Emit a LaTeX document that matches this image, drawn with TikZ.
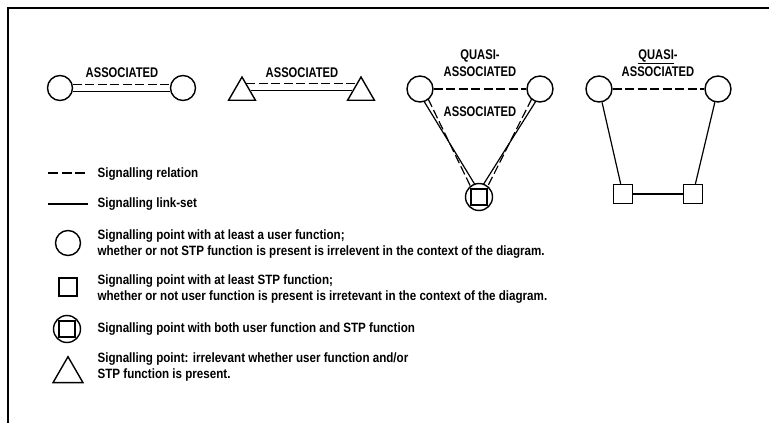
\documentclass[tikz,border=0pt]{standalone}
\usepackage{fontspec}
\setmainfont{Liberation Sans}[FakeStretch=0.8]
\newfontfamily\legendfont{Liberation Sans}[FakeStretch=0.86]
\usetikzlibrary{calc,shapes.geometric}

\begin{document}
\begin{tikzpicture}[x=1pt, y=-1pt, line width=1.2pt,
    userpt/.style={draw, circle, minimum size=25pt, inner sep=0pt, line width=1.4pt},
    stppt/.style={draw, rectangle, minimum size=19pt, inner sep=0pt, line width=1.4pt},
    anypt/.style={draw, regular polygon, regular polygon sides=3, minimum size=31pt, inner sep=0pt, line width=1.4pt},
    relation/.style={dash pattern=on 9pt off 3.5pt},
    lbl/.style={font=\fontsize{14}{17}\selectfont\bfseries, align=center},
    txt/.style={anchor=west, align=left, inner sep=0pt, font=\legendfont\fontsize{13.5}{16}\selectfont\bfseries}]
  \useasboundingbox (0,0) rectangle (769,423);
  % frame, top and left only
  \draw[line width=2pt] (8,423) -- (8,8) -- (769,8);

  % ASSOCIATED — two user points
  \node[userpt] (ua) at (60,88) {};
  \node[userpt] (ub) at (183,88) {};
  \draw[relation] (ua.15) -- (ub.165);
  \draw (ua.-15) -- (ub.-165);
  \node[lbl] (assoc1) at (122,73) {ASSOCIATED};

  % ASSOCIATED — two triangles
  \node[anypt] (ta) at (242,92.5) {};
  \node[anypt] (tb) at (361,92.5) {};
  \draw[relation] ($(ta.corner 1)!0.3!(ta.corner 3)$) -- ($(tb.corner 1)!0.3!(tb.corner 2)$);
  \draw ($(ta.corner 1)!0.6!(ta.corner 3)$) -- ($(tb.corner 1)!0.6!(tb.corner 2)$);
  \node[lbl] (assoc2) at (302,73) {ASSOCIATED};

  % QUASI-ASSOCIATED via combined point
  \node[userpt, minimum size=26pt] (qa) at (420,89) {};
  \node[userpt, minimum size=26pt] (qb) at (540,89) {};
  \node[userpt, minimum size=27pt] (qc) at (479,197) {};
  \node[stppt, minimum size=16pt] (qcs) at (qc) {};
  \draw[relation] (qa) -- (qb);
  \foreach \a/\s/\d in {qa/-90/90, qb/90/-90} {
    \draw[shorten <=12.5pt, shorten >=12.5pt] ($(\a)!3pt!\s:(qc)$) -- ($(qc)!3pt!\s:(\a)$);
    \draw[relation, shorten <=12.5pt, shorten >=12.5pt] ($(\a)!3pt!\d:(qc)$) -- ($(qc)!3pt!\d:(\a)$);
  }
  \node[lbl] (quasi3) at (480,63) {QUASI-\\ASSOCIATED};
  \node[lbl] (assoc3) at (480,112) {ASSOCIATED};

  % QUASI-ASSOCIATED via two STPs
  \node[userpt, minimum size=26pt] (pa) at (599,89) {};
  \node[userpt, minimum size=26pt] (pb) at (718,89) {};
  \node[stppt] (sa) at (623,194) {};
  \node[stppt] (sb) at (693,194) {};
  \draw[relation] (pa) -- (pb);
  \draw (pa) -- (sa);
  \draw (pb) -- (sb);
  \draw (sa) -- (sb);
  \node[lbl] (quasi4) at (658,63) {\underline{QUASI}-\\ASSOCIATED};

  % legend
  \draw[relation, dash pattern=on 10pt off 3.5pt] (48,173) -- (86,173);
  \node[txt] (lrel) at (97,174) {Signalling relation};
  \draw (48,204) -- (88,204);
  \node[txt] (llink) at (97,204) {Signalling link-set};
  \node[userpt] (luser) at (68,243) {};
  \node[txt] (tuser) at (97,244) {Signalling point with at least a user function;\\
    whether or not STP function is present is irrelevent in the context of the diagram.};
  \node[stppt, minimum size=18pt] (lstp) at (68,287) {};
  \node[txt] (tstp) at (97,289) {Signalling point with at least STP function;\\
    whether or not user function is present is irretevant in the context of the diagram.};
  \node[userpt, minimum size=27pt] (lboth) at (67,329) {};
  \node[stppt, minimum size=16pt] (lboths) at (lboth) {};
  \node[txt] (tboth) at (97,329) {Signalling point with both user function and STP function};
  \node[anypt, minimum size=34.6pt] (lany) at (68,374) {};
  \node[txt] (tany) at (97,367) {Signalling point: irrelevant whether user function and/or\\
    STP function is present.};
\end{tikzpicture}
\end{document}
